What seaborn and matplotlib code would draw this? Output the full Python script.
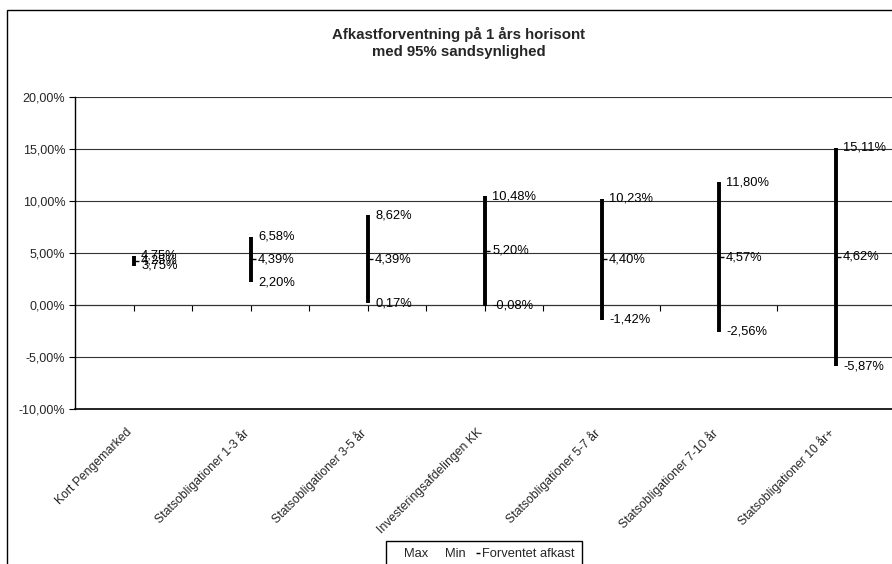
import pandas as pd
import seaborn as sns
import matplotlib.pyplot as plt
from matplotlib.lines import Line2D
from matplotlib.patches import Rectangle
from matplotlib.ticker import FuncFormatter, MultipleLocator
from matplotlib.transforms import ScaledTranslation
import numpy as np

# data (percent)
kategorier = [
    "Kort Pengemarked",
    "Statsobligationer 1-3 år",
    "Statsobligationer 3-5 år",
    "Investeringsafdelingen KK",
    "Statsobligationer 5-7 år",
    "Statsobligationer 7-10 år",
    "Statsobligationer 10 år+",
]
max_afkast = [4.75, 6.58, 8.62, 10.48, 10.23, 11.80, 15.11]
min_afkast = [3.75, 2.20, 0.17, -0.08, -1.42, -2.56, -5.87]
forventet_afkast = [4.25, 4.39, 4.39, 5.20, 4.40, 4.57, 4.62]


def pct(v):
    return f"{v:.2f}%".replace(".", ",")


# long table: min / forventet / max per category
rows = []
for k, lo, mid, hi in zip(kategorier, min_afkast, forventet_afkast, max_afkast):
    rows += [(k, "Min", lo), (k, "Forventet afkast", mid), (k, "Max", hi)]
df = pd.DataFrame(rows, columns=["kategori", "serie", "afkast"])

sns.set_style("white")
plt.rcParams["font.family"] = ["Liberation Sans", "DejaVu Sans"]

fig = plt.figure(figsize=(8.92, 5.64), dpi=100)
ax = fig.add_axes([75 / 892, 1 - 409 / 564, 819 / 892, 312 / 564])

# high-low bars with the expected value as a tick to the right (median of min/mid/max)
sns.pointplot(
    data=df, x="kategori", y="afkast", order=kategorier,
    estimator="median", errorbar=lambda v: (v.min(), v.max()),
    linestyle="none", marker=1, markersize=3.5, markeredgewidth=1,
    color="black", err_kws={"linewidth": 2.8, "solid_capstyle": "butt"},
    capsize=0, ax=ax, zorder=3,
)

ax.set_ylim(-10, 20)
ax.set_xlim(-0.5, len(kategorier) - 0.5)
ax.yaxis.set_major_locator(MultipleLocator(5))
ax.yaxis.set_major_formatter(FuncFormatter(lambda y, _: pct(y)))
ax.grid(axis="y", color="#333333", linewidth=0.8)
ax.set_axisbelow(True)
ax.set_xlabel("")
ax.set_ylabel("")

for s in ["top", "right"]:
    ax.spines[s].set_visible(False)
ax.spines["left"].set_color("black")
ax.spines["bottom"].set_color("black")
ax.spines["left"].set_linewidth(1)
ax.spines["bottom"].set_linewidth(1.2)

ax.tick_params(axis="y", left=True, length=4, width=0.8, color="black",
               labelsize=9, pad=3)
ax.tick_params(axis="x", bottom=False, length=0, pad=6)
ax.set_xticks(range(len(kategorier)))
ax.set_xticklabels(kategorier, rotation=45, ha="right", va="top",
                   rotation_mode="anchor", fontsize=8.8)
shift = ScaledTranslation(-0.08, -0.09, fig.dpi_scale_trans)
for lab in ax.get_xticklabels():
    lab.set_transform(lab.get_transform() + shift)

# category axis crossing at 0 %
sec = ax.secondary_xaxis(10 / 30)
sec.set_xticks(np.arange(0, len(kategorier) - 0.4, 0.5))
sec.set_xticklabels([])
sec.tick_params(direction="out", length=4, width=0.8, color="black")
sec.spines["bottom"].set_color("black")
sec.spines["bottom"].set_linewidth(0.8)

# value labels
for i, (lo, mid, hi) in enumerate(zip(min_afkast, forventet_afkast, max_afkast)):
    for v in (hi, mid, lo):
        ax.annotate(pct(v), (i, v), xytext=(5.5, 0), textcoords="offset points",
                    ha="left", va="center", fontsize=9.3, color="black")

fig.text(459 / 892, 1 - 43 / 564,
         "Afkastforventning på 1 års horisont\nmed 95% sandsynlighed",
         ha="center", va="center", fontsize=10.8, fontweight="bold",
         linespacing=1.2)

handles = [
    Line2D([], [], linestyle="none"),
    Line2D([], [], linestyle="none"),
    Line2D([], [], linestyle="none", marker=1, markersize=3, color="black",
           markeredgewidth=1),
]
fig.legend(handles, ["Max", "Min", "Forventet afkast"], loc="upper center",
           bbox_to_anchor=(484 / 892, 23 / 564), ncol=3, frameon=True,
           fancybox=False, edgecolor="black", fontsize=9.3,
           handlelength=0.6, handletextpad=0.2, columnspacing=0.5,
           borderpad=0.55, borderaxespad=0, framealpha=1)

# outer chart frame (cut off at right and bottom)
fig.add_artist(Rectangle((7 / 892, -0.2), 2, 0.2 + 1 - 10 / 564,
                         transform=fig.transFigure, fill=False,
                         edgecolor="black", linewidth=1, clip_on=False))

fig.savefig("out.png", dpi=100)
